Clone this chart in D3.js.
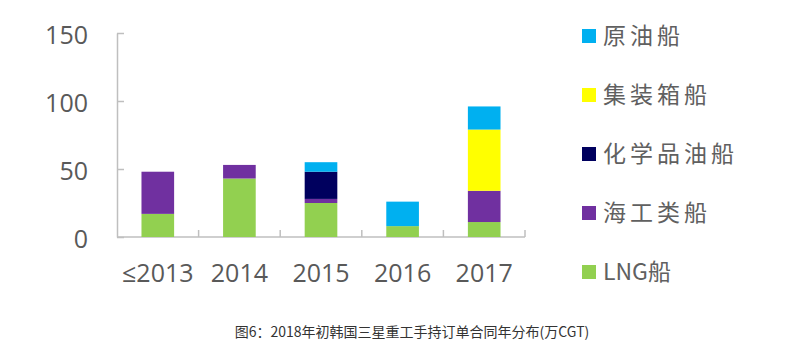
<!DOCTYPE html>
<html>
<head>
    <meta charset="utf-8">
    <title>三星重工手持订单</title>
    <script src="https://cdnjs.cloudflare.com/ajax/libs/d3/7.8.5/d3.min.js"></script>
    <style>
        body {
            margin: 0;
            background: #fff;
        }
        .tick-label {
            font-family: "Open Sans", sans-serif;
            font-size: 25px;
            fill: #595959;
        }
        .legend-label {
            font-family: "Noto Sans CJK SC", sans-serif;
            font-size: 23px;
            fill: #606060;
        }
        .caption {
            font-family: "Noto Sans CJK SC", sans-serif;
            font-size: 14px;
            fill: #333;
        }
    </style>
</head>
<body>
    <div id="chart"></div>

    <script>
        // chart data (万CGT)
        const categories = ['≤2013', '2014', '2015', '2016', '2017'];
        const lng       = [17, 43, 25, 8, 11];
        const offshore  = [31, 10, 3, 0, 23];
        const chemical  = [0, 0, 20, 0, 0];
        const container = [0, 0, 0, 0, 45];
        const crude     = [0, 0, 7, 18, 17];
        const yTicks = [0, 50, 100, 150];

        // bottom-up stacking order
        const seriesKeys  = ['LNG船', '海工类船', '化学品油船', '集装箱船', '原油船'];
        const seriesData  = [lng, offshore, chemical, container, crude];
        const seriesColor = ['#92d050', '#7030a0', '#00005e', '#ffff00', '#00b0f0'];
        // legend order, top to bottom
        const legendOrder = ['原油船', '集装箱船', '化学品油船', '海工类船', 'LNG船'];

        const rows = categories.map((c, i) => {
            const r = { cat: c };
            seriesKeys.forEach((k, j) => r[k] = seriesData[j][i]);
            return r;
        });

        const svg = d3.select('#chart')
            .append('svg')
            .attr('width', 800)
            .attr('height', 351);

        const x = d3.scaleBand()
            .domain(categories)
            .range([117, 525]);

        const y = d3.scaleLinear()
            .domain([0, 150])
            .range([237, 33]);

        const color = d3.scaleOrdinal(seriesKeys, seriesColor);

        // y axis, ticks pointing inward
        const yAxis = svg.append('g')
            .attr('transform', `translate(${x.range()[0]},0)`)
            .call(d3.axisLeft(y)
                .tickValues(yTicks)
                .tickSizeInner(-7)
                .tickSizeOuter(0)
                .tickPadding(29));
        yAxis.select('.domain').attr('stroke', '#bfbfbf').attr('stroke-width', 1.5);
        yAxis.selectAll('.tick line').attr('stroke', '#bfbfbf').attr('stroke-width', 1.5);
        yAxis.selectAll('.tick text')
            .attr('class', 'tick-label')
            .attr('dy', '0.40em');
        yAxis.attr('font-size', null).attr('font-family', null);

        // x axis: line with boundary ticks pointing up
        const xAxis = svg.append('g');
        xAxis.append('line')
            .attr('x1', x.range()[0])
            .attr('x2', x.range()[1])
            .attr('y1', y(0))
            .attr('y2', y(0))
            .attr('stroke', '#bfbfbf')
            .attr('stroke-width', 1.5);
        const bounds = categories.map(c => x(c)).concat([x.range()[1]]).slice(1);
        xAxis.selectAll('.xtick')
            .data(bounds)
            .enter()
            .append('line')
            .attr('x1', d => d)
            .attr('x2', d => d)
            .attr('y1', y(0))
            .attr('y2', y(0) - 7)
            .attr('stroke', '#bfbfbf')
            .attr('stroke-width', 1.5);
        xAxis.selectAll('.xlabel')
            .data(categories)
            .enter()
            .append('text')
            .attr('class', 'tick-label')
            .attr('x', d => x(d) + x.bandwidth() / 2)
            .attr('y', 282)
            .attr('text-anchor', 'middle')
            .text(d => d);

        // stacked bars
        const stacked = d3.stack().keys(seriesKeys)(rows);
        const barW = x.bandwidth() * 0.4;

        svg.append('g')
            .selectAll('g')
            .data(stacked)
            .enter()
            .append('g')
            .attr('fill', d => color(d.key))
            .selectAll('rect')
            .data(d => d)
            .enter()
            .append('rect')
            .attr('x', d => x(d.data.cat) + (x.bandwidth() - barW) / 2)
            .attr('y', d => y(d[1]))
            .attr('width', barW)
            .attr('height', d => y(d[0]) - y(d[1]));

        // legend
        const legend = svg.append('g')
            .selectAll('g')
            .data(legendOrder)
            .enter()
            .append('g')
            .attr('transform', (d, i) => `translate(582,${36 + i * 59})`);

        legend.append('rect')
            .attr('x', 0)
            .attr('y', -7)
            .attr('width', 14)
            .attr('height', 14)
            .attr('fill', d => color(d));

        // CJK glyphs in the original are set wide, Latin letters are not
        legend.append('text')
            .attr('class', 'legend-label')
            .attr('x', 21)
            .attr('y', 0)
            .attr('dy', '0.36em')
            .selectAll('tspan')
            .data(d => d.match(/[A-Za-z]+|./g))
            .enter()
            .append('tspan')
            .attr('letter-spacing', d => /[A-Za-z]/.test(d) ? 0 : 4)
            .text(d => d);

        // caption
        svg.append('text')
            .attr('class', 'caption')
            .attr('x', 412)
            .attr('y', 337)
            .attr('text-anchor', 'middle')
            .text('图6：2018年初韩国三星重工手持订单合同年分布(万CGT)');
    </script>
</body>
</html>
